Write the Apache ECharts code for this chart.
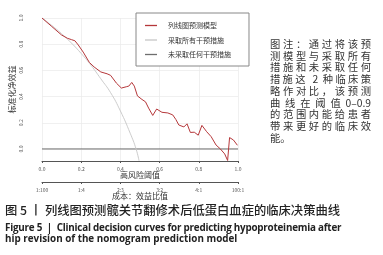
<!DOCTYPE html>
<html>
<head>
<meta charset="utf-8">
<script src="https://cdn.jsdelivr.net/npm/echarts@6/dist/echarts.min.js"></script>
<style>
html,body{margin:0;padding:0;background:#fff;}
#wrap{position:relative;width:383px;height:255px;overflow:hidden;font-family:"Noto Sans CJK SC","Noto Sans",sans-serif;}
#chart{position:absolute;left:0;top:0;width:383px;height:255px;}
#note{position:absolute;left:270px;top:38px;width:101px;font-size:10.3px;line-height:11.7px;color:#333;}
#note div{text-align:justify;text-align-last:justify;white-space:nowrap;}
#note div.last{text-align-last:left;}
.cap{position:absolute;left:5px;color:#222;white-space:nowrap;}
.zh{top:202px;font-size:12.3px;line-height:16px;font-weight:500;}
.en{font-family:"Open Sans",sans-serif;font-weight:700;font-size:9.85px;line-height:12px;}
#en1{top:220.5px;letter-spacing:-0.22px;}
#en2{top:232px;}
</style>
</head>
<body>
<div id="wrap">
  <div id="chart"></div>
  <div id="note">
    <div>图注：通过将该预</div>
    <div>测模型与采取所有</div>
    <div>措施和未采取任何</div>
    <div>措施这 2 种临床策</div>
    <div>略作对比，该预测</div>
    <div>曲 线 在 阈 值 0–0.9</div>
    <div>的范围内能给患者</div>
    <div>带来更好的临床效</div>
    <div class="last">能。</div>
  </div>
  <div class="cap zh">图 5 丨 列线图预测髋关节翻修术后低蛋白血症的临床决策曲线</div>
  <div class="cap en" id="en1">Figure 5 &nbsp;| &nbsp;Clinical decision curves for predicting hypoproteinemia after</div>
  <div class="cap en" id="en2">hip revision of the nomogram prediction model</div>
</div>
<script>
// 列线图预测模型
var modelPt = [0, 0.05, 0.1, 0.13, 0.15, 0.168, 0.185, 0.21, 0.242, 0.266, 0.3, 0.332, 0.35, 0.38, 0.405, 0.43, 0.443, 0.458, 0.471, 0.487, 0.51, 0.528, 0.544, 0.565, 0.585, 0.612, 0.642, 0.667, 0.683, 0.698, 0.724, 0.74, 0.757, 0.777, 0.797, 0.816, 0.84, 0.863, 0.888, 0.91, 0.932, 0.947, 0.957, 0.977, 0.997];
var modelNB = [1.0, 0.935, 0.87, 0.845, 0.835, 0.826, 0.794, 0.74, 0.66, 0.626, 0.588, 0.574, 0.562, 0.502, 0.465, 0.475, 0.48, 0.508, 0.48, 0.405, 0.378, 0.36, 0.312, 0.256, 0.305, 0.28, 0.275, 0.26, 0.225, 0.183, 0.168, 0.192, 0.126, 0.128, 0.105, 0.18, 0.132, 0.094, 0.03, 0.0, -0.038, -0.088, 0.087, 0.068, 0.028];
// 采取所有干预措施
var allPt = [0, 0.05, 0.1, 0.15, 0.2, 0.25, 0.3, 0.35, 0.4, 0.45, 0.48, 0.495];
var allNB = [1.0, 0.943, 0.88, 0.809, 0.729, 0.639, 0.536, 0.43, 0.29, 0.12, 0.0, -0.09];
// 未采取任何干预措施
var nonePt = [0, 1];
var noneNB = [0, 0];

var yTicks = [0, 0.2, 0.4, 0.6, 0.8, 1.0];
var costLabels = ['1:100', '1:4', '2:3', '3:2', '4:1', '100:1'];
var seriesNames = ['列线图预测模型', '采取所有干预措施', '未采取任何干预措施'];

function pairs(xs, ys) {
    return xs.map(function (x, i) { return [x, ys[i]]; });
}

var chart = echarts.init(document.getElementById('chart'), null, {renderer: 'canvas'});
var option = {
    backgroundColor: 'transparent',
    animation: false,
    textStyle: {fontFamily: '"Noto Sans CJK SC", "Noto Sans", sans-serif'},
    grid: {left: 34, right: 145, top: 18, bottom: 94},
    legend: {
        orient: 'vertical',
        left: 136,
        top: 13,
        data: seriesNames,
        icon: 'rect',
        backgroundColor: '#fff',
        borderColor: '#888',
        borderWidth: 1,
        padding: [8, 18, 7, 9],
        itemGap: 5.5,
        itemWidth: 12,
        itemHeight: 1.3,
        textStyle: {fontSize: 7, color: '#333', lineHeight: 9, padding: [0, 0, 0, 6]}
    },
    xAxis: [
        {
            type: 'value', min: 0, max: 1, interval: 0.2,
            axisLine: {onZero: false, lineStyle: {color: '#555', width: 1}},
            axisTick: {show: true, length: 2, lineStyle: {color: '#555'}},
            axisLabel: {fontSize: 5, color: '#555', margin: 6, formatter: function (v) { return v.toFixed(1); }},
            splitLine: {show: true, lineStyle: {color: '#ececec', width: 0.8}},
            name: '高风险阈值', nameLocation: 'middle', nameGap: 10, nameMoveOverlap: false,
            nameTextStyle: {fontSize: 8, color: '#333', verticalAlign: 'top'}
        },
        {
            type: 'value', min: 0, max: 1, interval: 0.2, position: 'bottom', offset: 21,
            axisLine: {onZero: false, lineStyle: {color: '#555', width: 1}},
            axisTick: {show: true, length: 2, lineStyle: {color: '#555'}},
            axisLabel: {fontSize: 5, color: '#555', margin: 6, formatter: function (v) { return costLabels[Math.round(v / 0.2)]; }},
            splitLine: {show: false},
            name: '成本：效益比值', nameLocation: 'middle', nameGap: 10, nameMoveOverlap: false,
            nameTextStyle: {fontSize: 8, color: '#333', verticalAlign: 'top'}
        }
    ],
    yAxis: {
        type: 'value', min: -0.092, max: 1,
        axisLine: {show: false},
        axisTick: {show: false, customValues: yTicks},
        axisLabel: {customValues: yTicks, rotate: 90, fontSize: 5, color: '#555', margin: 18.5, formatter: function (v) { return v.toFixed(1); }},
        splitLine: {show: true, lineStyle: {color: '#ececec', width: 0.8}},
        name: '标准化净效益', nameLocation: 'middle', nameGap: 26, nameMoveOverlap: false,
        nameTextStyle: {fontSize: 8, color: '#333'}
    },
    series: [
        {
            name: seriesNames[0], type: 'line', symbol: 'none', z: 4,
            lineStyle: {color: '#b5373a', width: 1},
            itemStyle: {color: '#b5373a'},
            data: pairs(modelPt, modelNB)
        },
        {
            name: seriesNames[1], type: 'line', symbol: 'none', smooth: true, z: 3,
            lineStyle: {color: '#c6c6c6', width: 0.9},
            itemStyle: {color: '#c6c6c6'},
            data: pairs(allPt, allNB)
        },
        {
            name: seriesNames[2], type: 'line', symbol: 'none', z: 2,
            lineStyle: {color: '#6e6e6e', width: 1},
            itemStyle: {color: '#6e6e6e'},
            data: pairs(nonePt, noneNB)
        }
    ]
};
chart.setOption(option);
</script>
</body>
</html>
